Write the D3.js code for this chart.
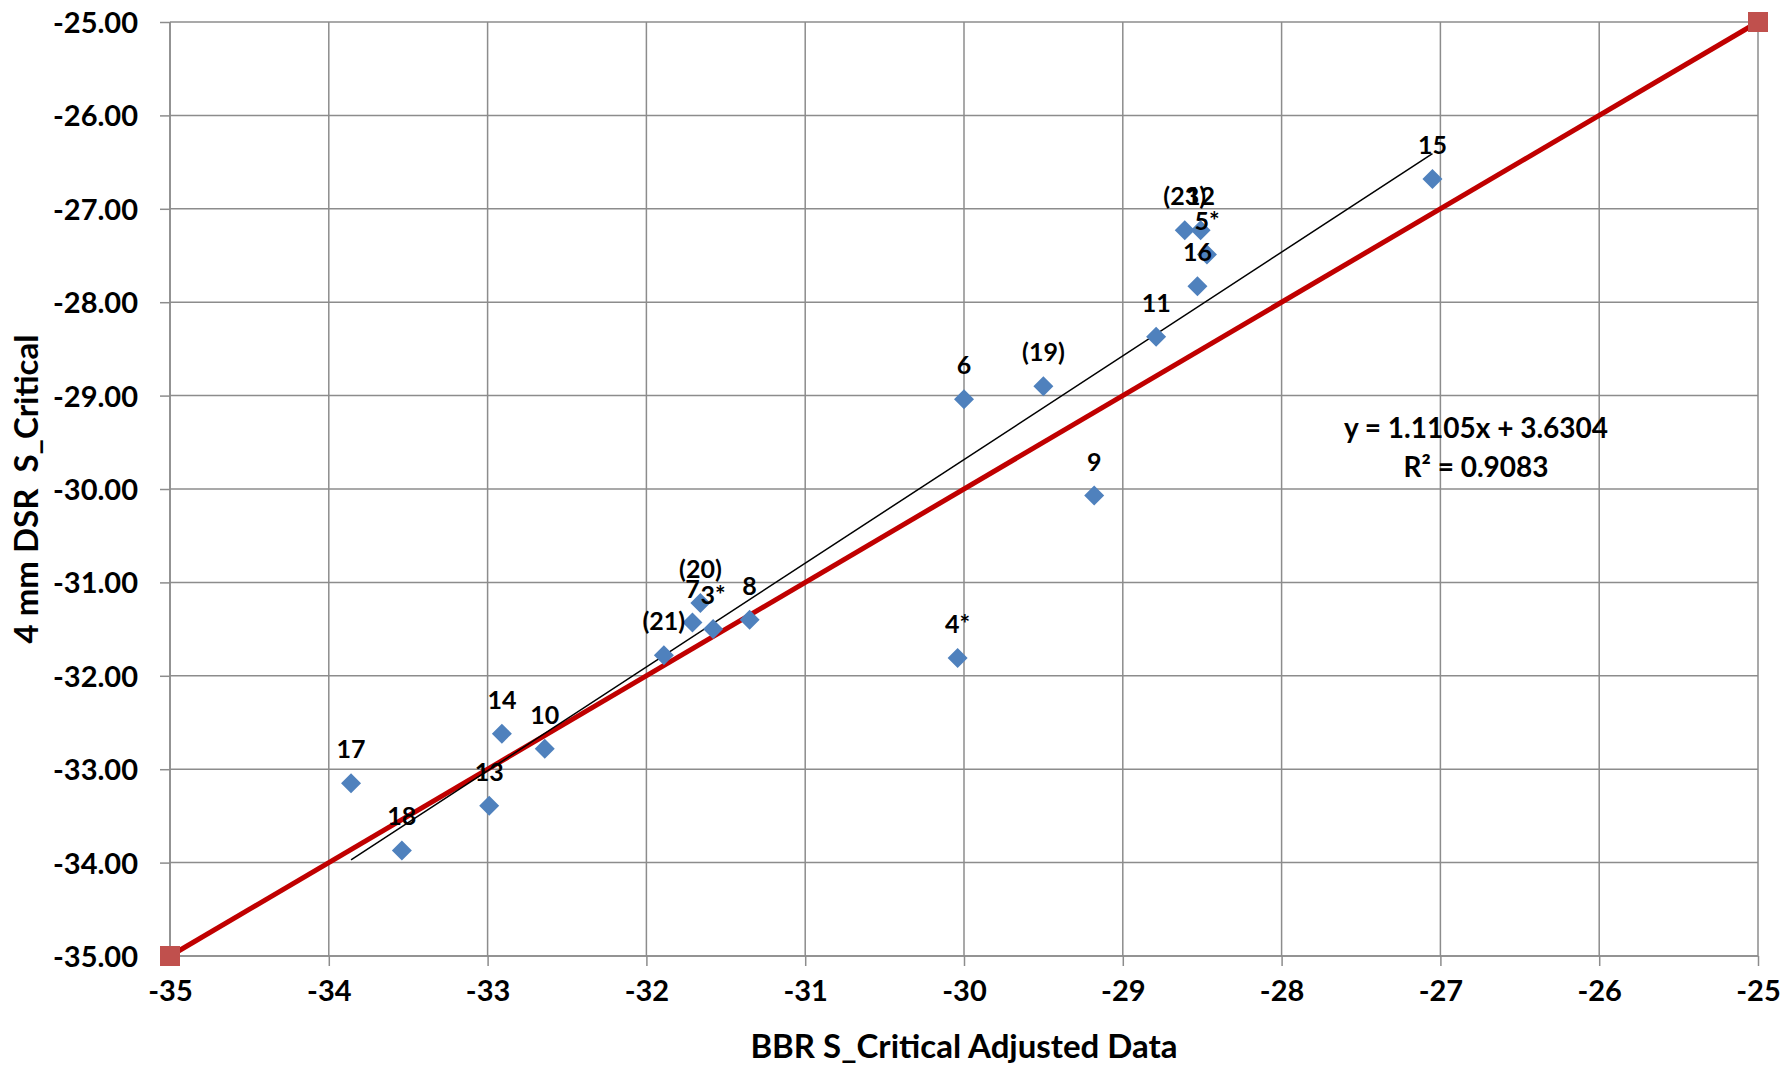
<!DOCTYPE html>
<html><head><meta charset="utf-8">
<script src="https://cdn.jsdelivr.net/npm/d3@7"></script>
<style>body{margin:0;background:#fff}svg{display:block}text{font-family:Lato,"Open Sans",sans-serif;font-weight:bold;fill:#000}</style>
</head><body>
<svg id="c" width="1783" height="1066"></svg>
<script>
const pointLabels = ["15","(23)","12","5*","16","11","(19)","6","9","4*","8","3*","7","(20)","(21)","10","14","13","17","18"];
const xValues = [-27.05,-28.61,-28.51,-28.47,-28.53,-28.79,-29.50,-30.00,-29.18,-30.04,-31.35,-31.58,-31.71,-31.66,-31.89,-32.64,-32.91,-32.99,-33.86,-33.54];
const yValues = [-26.68,-27.23,-27.23,-27.49,-27.83,-28.37,-28.90,-29.04,-30.07,-31.81,-31.40,-31.50,-31.43,-31.22,-31.78,-32.78,-32.62,-33.39,-33.15,-33.87];
const equalityX = [-35,-25];
const equalityY = [-35,-25];
const xTicks = [-35,-34,-33,-32,-31,-30,-29,-28,-27,-26,-25];
const yTicks = [-35,-34,-33,-32,-31,-30,-29,-28,-27,-26,-25];
const slope = 1.1105, intercept = 3.6304, r2 = 0.9083;
const xTitle = "BBR S_Critical Adjusted Data";
const yTitle = "4 mm DSR  S_Critical";

const svg = d3.select("#c");
const L=170, R=1758, T=22, B=956;
const x = d3.scaleLinear().domain([-35,-25]).range([L,R]);
const y = d3.scaleLinear().domain([-35,-25]).range([B,T]);
const grid = "#8c8c8c";
const hy = s => s.replace(/\u2212/g,"-");

// gridlines
svg.append("g").selectAll("line").data(xTicks).join("line")
  .attr("x1",d=>x(d)).attr("x2",d=>x(d)).attr("y1",T).attr("y2",B)
  .attr("stroke",grid).attr("stroke-width",1.5);
svg.append("g").selectAll("line").data(yTicks).join("line")
  .attr("y1",d=>y(d)).attr("y2",d=>y(d)).attr("x1",L).attr("x2",R)
  .attr("stroke",grid).attr("stroke-width",1.5);

// axes
const xAxis = svg.append("g").attr("transform",`translate(0,${B})`)
  .call(d3.axisBottom(x).tickValues(xTicks).tickFormat(d=>hy(d3.format("d")(d))).tickSize(10).tickPadding(14));
const yAxis = svg.append("g").attr("transform",`translate(${L},0)`)
  .call(d3.axisLeft(y).tickValues(yTicks).tickFormat(d=>hy(d3.format(".2f")(d))).tickSize(10).tickPadding(22));
[xAxis,yAxis].forEach(a=>{
  a.selectAll("path,line").attr("stroke",grid).attr("stroke-width",1.5);
  a.selectAll("text").attr("font-size",29).attr("font-family","Lato").attr("font-weight","900").attr("fill","#000");
});
xAxis.select(".domain").attr("d",`M${L},0H${R}`);
yAxis.select(".domain").attr("d",`M0,${T}V${B}`);
yAxis.selectAll("text").attr("dy","0.36em");

// equality line
svg.append("line").attr("x1",x(equalityX[0])).attr("y1",y(equalityY[0]))
  .attr("x2",x(equalityX[1])).attr("y2",y(equalityY[1]))
  .attr("stroke","#C00000").attr("stroke-width",5);

// trendline
const xMin=d3.min(xValues), xMax=d3.max(xValues);
svg.append("line").attr("x1",x(xMin)).attr("y1",y(slope*xMin+intercept))
  .attr("x2",x(xMax)).attr("y2",y(slope*xMax+intercept))
  .attr("stroke","#000").attr("stroke-width",1.5);

// equality markers
svg.append("g").selectAll("rect").data(equalityX).join("rect")
  .attr("x",(d,i)=>x(d)-10).attr("y",(d,i)=>y(equalityY[i])-10)
  .attr("width",20).attr("height",20).attr("fill","#C0504D");

// points
const pts = xValues.map((v,i)=>({x:v,y:yValues[i],l:pointLabels[i]}));
svg.append("g").selectAll("path").data(pts).join("path")
  .attr("d",d=>{const cx=x(d.x), cy=y(d.y), r=10; return `M${cx},${cy-r}L${cx+r},${cy}L${cx},${cy+r}L${cx-r},${cy}Z`;})
  .attr("fill","#4F81BD");
svg.append("g").selectAll("text").data(pts).join("text")
  .attr("x",d=>x(d.x)).attr("y",d=>y(d.y)-25)
  .attr("text-anchor","middle").attr("font-size",25).attr("font-weight","900").text(d=>d.l);

// equation
const eq = svg.append("text").attr("x",1476).attr("text-anchor","middle").attr("font-size",28).attr("font-weight","900");
eq.append("tspan").attr("x",1476).attr("y",438).text(`y = ${slope}x + ${intercept}`);
eq.append("tspan").attr("x",1476).attr("y",477).text(`R² = ${r2}`);

// titles
svg.append("text").attr("x",(L+R)/2).attr("y",1058).attr("text-anchor","middle").attr("font-size",33).attr("font-weight","900").text(xTitle);
svg.append("text").attr("transform",`translate(38,${(T+B)/2}) rotate(-90)`).attr("text-anchor","middle").attr("font-size",33).attr("font-weight","900").style("white-space","pre").text(yTitle);
</script>
</body></html>
